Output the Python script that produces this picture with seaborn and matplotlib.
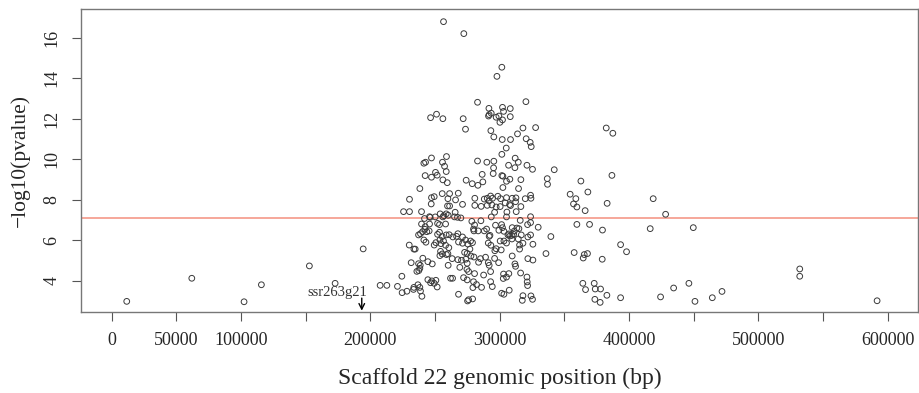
import numpy as np
import pandas as pd
import matplotlib
matplotlib.use('Agg')
import matplotlib.pyplot as plt
import seaborn as sns

# positions in kb and -log10(p)
pos_kb = [
    # far left / far right singletons
    11.6, 61.9, 102.3, 115.7, 152.8, 172.7, 194.4, 207.5,
    471.8, 531.9, 531.9, 591.7,
    # upper part of the cluster
    256.5, 272.2, 301.6, 297.8, 282.8, 320.2, 291.6, 302.1, 308.1, 302.9,
    246.5, 251.1, 256.0, 271.7, 291.3, 293.4, 291.8, 297.2, 299.3, 302.1,
    300.1, 308.1, 273.5, 293.1, 295.4, 301.9, 308.3, 313.7, 317.9, 327.7,
    320.4, 323.5, 324.3, 305.0, 301.6,
    # dense middle of the cluster
    241.3, 242.6, 247.2, 255.7, 257.3, 258.8, 282.8, 290.0, 295.4, 311.9,
    314.3, 306.8, 311.7, 321.0, 325.3, 342.1, 242.3, 247.2, 251.6, 250.3,
    258.6, 256.0, 259.4, 274.0, 278.7, 283.1, 286.9, 286.4, 295.2, 294.9,
    301.6, 302.4, 307.8, 305.2, 316.3, 336.7, 336.9, 238.2, 255.5, 261.2,
    267.9, 249.3, 247.2, 259.9, 265.8, 230.2, 280.7, 288.0, 290.3, 292.9,
    294.4, 291.8, 298.5, 300.6, 305.2, 309.6, 312.5, 314.5, 302.4, 319.7,
    323.8, 324.1, 316.3, 247.0, 259.6, 261.2, 271.2, 280.7, 285.6, 290.3,
    293.9, 297.2, 300.3, 304.2, 307.6, 308.3, 312.2, 225.6, 230.2, 239.5,
    253.9, 256.8, 258.6, 260.1, 256.0, 265.5, 267.3, 269.9, 296.0, 305.5,
    312.7, 241.8, 245.7, 246.2, 250.1, 265.0, 293.4, 305.2, 323.8, 315.8,
    239.5, 242.3, 245.7, 251.9, 253.4, 258.1, 278.4, 280.5, 285.4, 296.7,
    301.4, 302.1, 309.6, 313.2, 314.8, 311.2, 307.0, 321.5, 323.8, 329.7,
    237.2, 238.7, 240.3, 242.1, 243.6, 245.4, 251.9, 253.4, 255.5, 258.6,
    260.9, 263.7, 266.6, 267.6, 271.2, 273.5, 277.4, 279.7, 280.0, 283.3,
    288.0, 289.8, 292.4, 291.8, 299.3, 303.2, 306.3, 307.8, 309.4, 310.7,
    316.6, 321.7, 323.8, 339.5,
    # lower part of the cluster
    230.0, 233.6, 234.6, 241.3, 242.9, 249.3, 250.6, 253.7, 254.5, 256.5,
    258.1, 260.6, 254.2, 255.5, 259.9, 268.1, 271.2, 275.3, 276.9, 274.8,
    272.8, 278.9, 291.1, 293.1, 297.2, 296.2, 301.1, 300.3, 303.2, 305.2,
    309.4, 314.3, 315.3, 315.3, 317.9, 325.6, 335.7, 231.5, 237.2, 238.5,
    240.5, 244.4, 247.8, 253.7, 258.8, 260.1, 263.2, 267.6, 270.4, 273.8,
    274.8, 277.7, 280.0, 283.6, 285.1, 289.0, 291.1, 291.8, 296.0, 299.1,
    309.6, 311.7, 312.2, 321.7, 325.6, 235.9, 237.4, 238.2, 269.1, 274.6,
    275.9, 280.5, 292.9, 302.9, 307.0, 316.1, 224.3, 212.7, 220.9, 224.5,
    228.2, 233.3, 233.6, 236.7, 238.2, 238.7, 239.8, 244.4, 246.5, 247.5,
    249.3, 250.6, 251.6, 261.9, 263.5, 268.1, 272.0, 274.8, 279.7, 279.2,
    282.0, 285.9, 292.9, 294.2, 301.4, 303.2, 302.7, 305.2, 307.3, 321.0,
    321.2, 321.5, 317.9, 324.1, 317.4, 325.3, 275.1, 279.0, 287.5, 275.9,
    # right shoulder (350-470 kb)
    382.3, 387.4, 386.7, 362.7, 368.1, 354.4, 358.8, 357.0, 359.6, 366.0,
    383.0, 418.6, 428.2, 359.6, 369.4, 379.4, 416.3, 449.6, 393.4, 398.0,
    357.5, 365.3, 367.8, 364.5, 379.2, 364.2, 373.0, 366.3, 373.8, 377.9,
    373.5, 377.6, 382.8, 393.4, 424.3, 434.4, 446.2, 450.9, 464.3,
]

neg_log10_p = [
    2.98, 4.12, 2.96, 3.80, 4.73, 3.87, 5.57, 3.77,
    3.47, 4.58, 4.22, 3.01,
    16.79, 16.20, 14.54, 14.09, 12.81, 12.84, 12.51, 12.56, 12.50, 12.36,
    12.05, 12.22, 12.00, 12.00, 12.13, 12.27, 12.20, 12.07, 12.13, 11.94,
    11.82, 12.10, 11.48, 11.41, 11.10, 10.97, 10.97, 11.25, 11.54, 11.56,
    11.01, 10.83, 10.62, 10.55, 10.24,
    9.80, 9.85, 10.06, 9.85, 9.65, 10.13, 9.91, 9.85, 9.90, 10.05,
    9.85, 9.70, 9.58, 9.70, 9.50, 9.48, 9.19, 9.11, 9.21, 9.35,
    9.39, 8.98, 8.84, 8.96, 8.79, 8.71, 8.88, 9.25, 9.57, 9.29,
    9.19, 9.16, 9.01, 8.91, 8.99, 9.04, 8.76, 8.55, 8.30, 8.30,
    8.32, 8.15, 8.10, 8.05, 7.99, 8.02, 8.07, 8.03, 8.07, 8.18,
    8.07, 7.94, 8.17, 8.05, 8.10, 8.07, 8.09, 8.55, 8.60, 8.05,
    8.22, 8.07, 7.66, 7.79, 7.69, 7.69, 7.77, 7.72, 7.67, 7.72,
    7.74, 7.64, 7.66, 7.84, 7.76, 7.71, 7.90, 7.41, 7.41, 7.41,
    7.30, 7.21, 7.30, 7.23, 7.15, 7.38, 7.13, 7.10, 7.38, 7.39,
    7.41, 7.07, 7.16, 7.13, 7.15, 7.15, 7.15, 7.15, 7.16, 6.98,
    6.80, 6.67, 6.80, 6.83, 6.77, 6.80, 6.93, 6.75, 6.96, 6.74,
    6.77, 6.62, 6.62, 6.60, 6.57, 6.45, 6.31, 6.77, 6.87, 6.64,
    6.26, 6.32, 6.42, 6.54, 6.42, 6.46, 6.29, 6.39, 6.18, 6.26,
    6.27, 6.16, 6.19, 6.32, 6.16, 6.01, 5.96, 6.55, 6.46, 6.46,
    6.46, 6.55, 6.24, 6.19, 6.49, 6.44, 6.26, 6.21, 6.24, 6.29,
    6.26, 6.16, 6.26, 6.18,
    5.76, 5.56, 5.56, 6.01, 5.90, 5.76, 5.88, 6.01, 5.83, 5.96,
    5.75, 5.63, 5.45, 5.32, 5.33, 5.91, 5.85, 5.81, 5.56, 5.35,
    5.40, 5.88, 5.86, 5.75, 5.58, 5.48, 5.52, 5.96, 5.96, 5.86,
    6.06, 6.06, 5.76, 5.56, 5.85, 5.80, 5.34, 4.89, 4.84, 4.76,
    5.11, 4.94, 4.83, 5.24, 5.29, 4.76, 5.09, 5.04, 5.01, 5.06,
    4.86, 5.22, 5.17, 4.91, 5.09, 5.16, 4.89, 4.76, 5.10, 4.89,
    5.22, 4.83, 4.71, 5.09, 5.02, 4.46, 4.50, 4.61, 4.66, 4.56,
    4.45, 4.35, 4.45, 4.33, 4.35, 4.38, 4.22, 3.77, 3.72, 3.41,
    3.48, 3.57, 3.67, 3.80, 3.67, 3.49, 3.23, 4.05, 3.90, 3.99,
    3.87, 4.02, 3.69, 4.12, 4.12, 3.33, 4.15, 4.04, 3.95, 3.66,
    3.81, 3.67, 3.95, 3.71, 3.38, 3.33, 4.11, 4.18, 3.53, 4.18,
    3.94, 3.76, 3.26, 3.25, 3.03, 3.08, 3.00, 3.10, 4.28, 3.06,
    11.54, 11.28, 9.20, 8.92, 8.38, 8.27, 8.05, 7.79, 7.64, 7.46,
    7.82, 8.05, 7.28, 6.78, 6.78, 6.50, 6.57, 6.62, 5.78, 5.43,
    5.39, 5.29, 5.34, 5.12, 5.06, 3.87, 3.87, 3.56, 3.59, 3.59,
    3.08, 2.93, 3.28, 3.16, 3.20, 3.64, 3.87, 2.98, 3.16,
]

threshold = 7.08
marker_name = 'ssr263g21'
marker_kb = 193.3

x_ticks = list(range(0, 600001, 50000))
x_labels = ['0', '50000', '100000', '', '200000', '', '300000', '',
            '400000', '', '500000', '', '600000']
y_ticks = [4, 6, 8, 10, 12, 14, 16]

df = pd.DataFrame({'pos': np.array(pos_kb) * 1000, 'p': neg_log10_p})

sns.set_style('ticks')
plt.rcParams['font.family'] = ['Liberation Serif', 'DejaVu Serif']

fig = plt.figure(figsize=(9.19, 3.93), dpi=100)
ax = fig.add_axes([0.0878, 0.2069, 0.9115, 0.7694])

sns.scatterplot(data=df, x='pos', y='p', ax=ax, s=17, marker='o',
                facecolor='none', edgecolor='#3a3a3a', linewidth=0.7)
ax.collections[0].set_facecolor('none')

ax.axhline(threshold, color='#f4907e', lw=1.1, zorder=0)

ax.annotate('', xy=(marker_kb * 1000, 2.52), xytext=(marker_kb * 1000, 3.14),
            arrowprops=dict(arrowstyle='->', color='black', lw=1, shrinkA=0, shrinkB=0))
ax.text(174200, 3.41, marker_name, ha='center', va='center', fontsize=10.5, color='#333333')

ax.set_xlim(-24000, 623600)
ax.set_ylim(2.47, 17.4)
ax.set_xticks(x_ticks)
ax.set_xticklabels(x_labels, fontsize=13)
ax.set_yticks(y_ticks)
ax.set_yticklabels([str(v) for v in y_ticks], fontsize=13, rotation=90, va='center')
ax.tick_params(direction='out', length=6.5, width=0.8, color='#555555', pad=8)

for sp in ax.spines.values():
    sp.set_color('#777777')
    sp.set_linewidth(1)

ax.set_xlabel('Scaffold 22 genomic position (bp)', fontsize=17, labelpad=14)
ax.set_ylabel('\u2212log10(pvalue)', fontsize=15.5, labelpad=10)

fig.savefig('out.png', dpi=100)
